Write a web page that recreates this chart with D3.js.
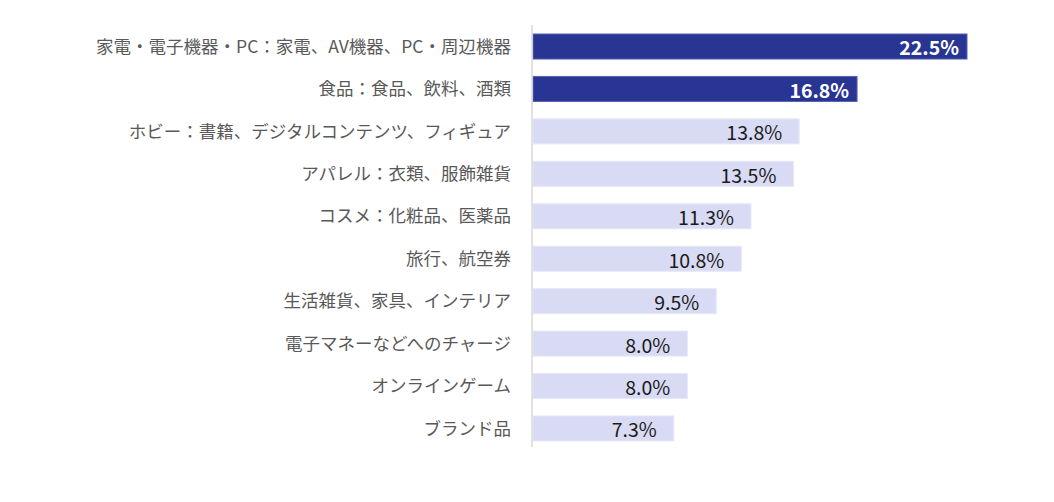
<!DOCTYPE html>
<html>
<head>
<meta charset="utf-8">
<script src="https://cdn.jsdelivr.net/npm/d3@7/dist/d3.min.js"></script>
<style>
  body { margin: 0; background: #fff; }
  svg text { font-family: "Noto Sans CJK JP", "Noto Sans", sans-serif; }
</style>
</head>
<body>
<script>
const width = 1054;
const height = 502;

const categories = [
  "家電・電子機器・PC：家電、AV機器、PC・周辺機器",
  "食品：食品、飲料、酒類",
  "ホビー：書籍、デジタルコンテンツ、フィギュア",
  "アパレル：衣類、服飾雑貨",
  "コスメ：化粧品、医薬品",
  "旅行、航空券",
  "生活雑貨、家具、インテリア",
  "電子マネーなどへのチャージ",
  "オンラインゲーム",
  "ブランド品"
];
const values = [22.5, 16.8, 13.8, 13.5, 11.3, 10.8, 9.5, 8.0, 8.0, 7.3];
const highlighted = [true, true, false, false, false, false, false, false, false, false];

const rows = categories.map((c, i) => ({ name: c, value: values[i], hi: highlighted[i] }));

let svg = d3.select('body').append('svg')
            .attr('width', width)
            .attr('height', height);

const x0 = 533;
const x = d3.scaleLinear()
            .domain([0, 22.5])
            .range([x0, 967]);

const y = d3.scaleBand()
            .domain(categories)
            .range([25.3, 449.7])
            .paddingInner(0.41)
            .paddingOuter(0.205);

// bars
svg.selectAll('rect.bar')
    .data(rows)
    .enter()
    .append('rect')
    .attr('class', 'bar')
    .attr('x', x(0))
    .attr('y', d => y(d.name))
    .attr('width', d => x(d.value) - x(0))
    .attr('height', y.bandwidth())
    .attr('fill', d => d.hi ? '#283593' : '#d9dbf4')
    .attr('stroke', d => d.hi ? '#5a63b0' : '#e6e7f8')
    .attr('stroke-width', 1);

// axis line
svg.append('line')
    .attr('x1', 532).attr('x2', 532)
    .attr('y1', 25).attr('y2', 447)
    .attr('stroke', '#d9d9d9')
    .attr('stroke-width', 1.5);

// category labels
svg.selectAll('text.cat')
    .data(rows)
    .enter()
    .append('text')
    .attr('class', 'cat')
    .attr('x', 511)
    .attr('y', d => y(d.name) + y.bandwidth() / 2)
    .attr('dy', '0.35em')
    .attr('text-anchor', 'end')
    .attr('font-size', 17.5)
    .attr('fill', '#595959')
    .text(d => d.name);

// value labels
svg.selectAll('text.val')
    .data(rows)
    .enter()
    .append('text')
    .attr('class', 'val')
    .attr('x', d => x(d.value) - (d.hi ? 8 : 17))
    .attr('y', d => y(d.name) + y.bandwidth() / 2 + 1.5)
    .attr('dy', '0.38em')
    .attr('text-anchor', 'end')
    .attr('font-size', 19.5)
    .attr('font-weight', d => d.hi ? 'bold' : 'normal')
    .attr('fill', d => d.hi ? '#ffffff' : '#1a1a1a')
    .text(d => d.value.toFixed(1) + '%');
</script>
</body>
</html>
